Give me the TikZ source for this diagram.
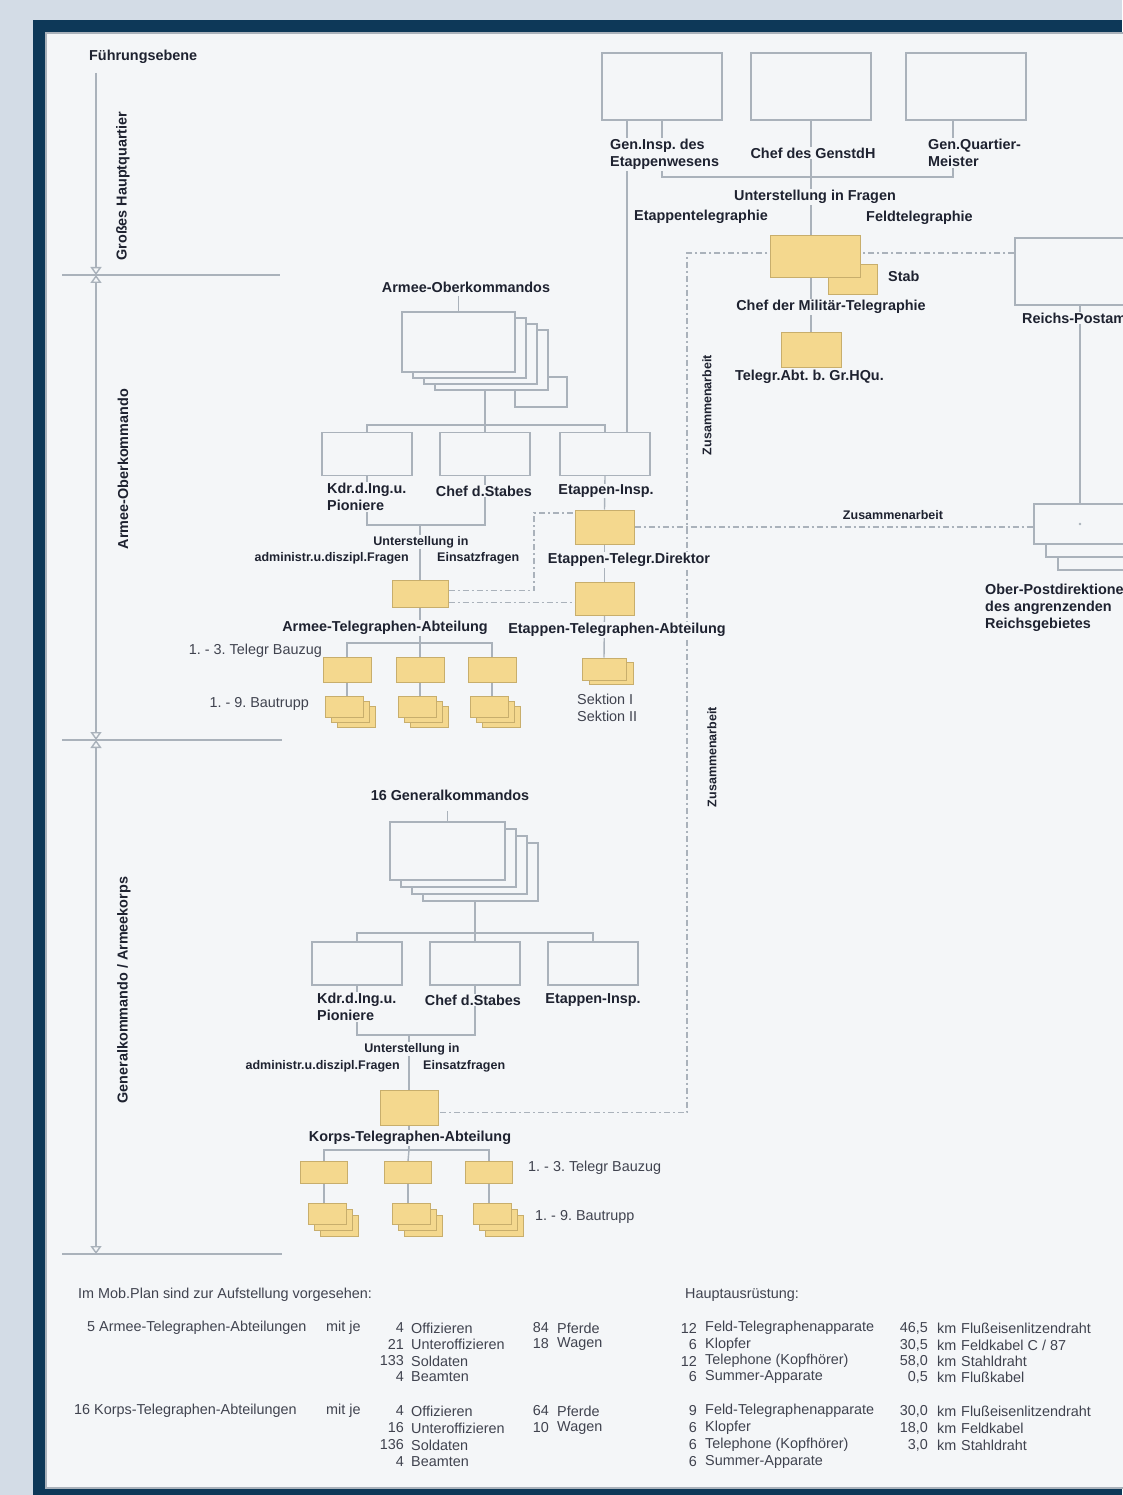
\documentclass[tikz,border=0pt]{standalone}
\usepackage{fontspec}
\setmainfont{Liberation Sans}
\usetikzlibrary{arrows.meta,positioning}
\frenchspacing

\definecolor{frame}{HTML}{0D3858}
\definecolor{wall}{HTML}{D3DCE6}
\definecolor{paper}{HTML}{F4F6F8}
\definecolor{wire}{HTML}{AAB2BB}
\definecolor{ink}{HTML}{1E2230}
\definecolor{unitfill}{HTML}{F4D88E}
\definecolor{unitline}{HTML}{C8AE6C}

\pgfdeclarelayer{bg}
\pgfdeclarelayer{back}
\pgfsetlayers{bg,back,main}

\begin{document}
\begin{tikzpicture}[
  x=1pt, y=-1pt,
  office/.style={draw=wire, fill=paper, line width=1.4pt, inner sep=0pt},
  topbox/.style={office, minimum width=120, minimum height=67},
  hqbox/.style={office, minimum width=113, minimum height=60},
  gkbox/.style={office, minimum width=115, minimum height=58},
  staffbox/.style={office, minimum width=90, minimum height=43},
  unit/.style={draw=unitline, fill=unitfill, line width=1pt, inner sep=0pt},
  trupp/.style={unit, minimum width=38, minimum height=21},
  lbl/.style={fill=paper, inner sep=1pt, text=ink, font=\fontsize{14.4}{17}\selectfont\bfseries},
  sml/.style={fill=paper, inner sep=1pt, text=ink, font=\fontsize{12.5}{14}\selectfont\bfseries},
  txt/.style={inner sep=0pt, text=ink!85, font=\fontsize{14.4}{17}\selectfont},
  link/.style={draw=wire, line width=1.4pt},
  coop/.style={draw=wire, line width=1.2pt, dash pattern=on 6pt off 3pt on 2pt off 3pt},
  lvl/.style={draw=wire, line width=1.4pt},
  >={Triangle[open, width=11pt, length=8pt]}
]
\useasboundingbox (0,0) rectangle (1122,1495);
\begin{pgfonlayer}{bg}
\fill[wall] (0,0) rectangle (1122,1495);
\fill[frame] (33,20) rectangle (1122,1495);
\filldraw[fill=paper, draw=wire, line width=1.5pt] (46,33) rectangle (1135,1488);
\end{pgfonlayer}

\node[lbl, anchor=west] (fuehrung) at (88,57) {Führungsebene};
\coordinate (ax0) at (96,73);
\coordinate (ax1) at (96,275);
\coordinate (ax2) at (96,740);
\coordinate (ax3) at (96,1254);
\draw[lvl] (62,275) -- (280,275);
\draw[lvl] (62,740) -- (282,740);
\draw[lvl] (62,1254) -- (282,1254);
\draw[lvl, ->] (ax0) -- (ax1);
\draw[lvl, <->] (ax1) -- (ax2);
\draw[lvl, <->] (ax2) -- (ax3);
\node[lbl, rotate=90] (lvHQ) at (123,186) {Großes Hauptquartier};
\node[lbl, rotate=90] (lvAOK) at (123,469) {Armee-Oberkommando};
\node[lbl, rotate=90] (lvGK) at (124,990) {Generalkommando / Armeekorps};

\node[topbox] (genInsp) at (662,86.5) {};
\node[topbox] (genStab) at (811,86.5) {};
\node[topbox] (genQM) at (966,86.5) {};
\node[unit, minimum width=49, minimum height=30] (stab) at (853,280) {};
\node[unit, minimum width=90, minimum height=42] (chefMT) at (815,257) {};
\node[unit, minimum width=60, minimum height=35] (telAbtHQ) at (811,349.5) {};
\node[office, minimum width=130, minimum height=67] (postamt) at (1080,271.5) {};
\foreach \d in {2,1}
  \node[office, minimum width=92, minimum height=40] (opd\d) at (1080+12*\d,524+13*\d) {};
\node[office, minimum width=92, minimum height=40] (opd) at (1080,524) {};
\fill[wire] (opd.center) circle (1.3);

\node[office, minimum width=52, minimum height=30] (aok5) at (541,392) {};
\foreach \d in {3,2,1}
  \node[hqbox] (aok\d) at (458.5+11*\d,342+6*\d) {};
\node[hqbox] (aok) at (458.5,342) {};
\node[staffbox] (kdrA) at (367,454) {};
\node[staffbox] (chefA) at (485,454) {};
\node[staffbox] (etapA) at (605,454) {};
\node[unit, minimum width=59, minimum height=34] (etd) at (604.5,527) {};
\node[unit, minimum width=56, minimum height=27] (ata) at (420,593.5) {};
\node[unit, minimum width=59, minimum height=33] (eta) at (604.5,598.5) {};
\foreach \x/\n in {347/1,420/2,492/3}
  \node[unit, minimum width=48, minimum height=25] (bzA\n) at (\x,669.5) {};
\foreach \x/\n in {344/1,417/2,489/3} {
  \foreach \d in {2,1}
    \node[trupp] (trA\n\d) at (\x+6*\d,707+5*\d) {};
  \node[trupp] (trA\n) at (\x,707) {};
}
\node[unit, minimum width=44, minimum height=22] (sek2) at (611,673) {};
\node[unit, minimum width=44, minimum height=22] (sek) at (604,669) {};

\foreach \d in {3,2,1}
  \node[gkbox] (gk\d) at (447.5+11*\d,851+7*\d) {};
\node[gkbox] (gk) at (447.5,851) {};
\node[staffbox] (kdrG) at (357,963.5) {};
\node[staffbox] (chefG) at (475,963.5) {};
\node[staffbox] (etapG) at (593,963.5) {};
\node[unit, minimum width=58, minimum height=35] (kta) at (409,1107.5) {};
\foreach \x/\n in {324/1,408/2,489/3}
  \node[unit, minimum width=47, minimum height=22] (bzG\n) at (\x,1172.5) {};
\foreach \x/\n in {327/1,411/2,492/3} {
  \foreach \d in {2,1}
    \node[trupp] (trG\n\d) at (\x+6*\d,1214+6*\d) {};
  \node[trupp] (trG\n) at (\x,1214) {};
}

\begin{pgfonlayer}{back}
\coordinate (hqBus) at (811,177);
\draw[link] (genInsp.south) |- (hqBus) -| ([xshift=-13pt]genQM.south);
\draw[link] (genStab.south) -- (genStab.south |- chefMT.north);
\draw[link] ([xshift=-35pt]genInsp.south) -- ([xshift=-35pt]genInsp.south |- etapA.north);
\draw[link] (telAbtHQ.north |- chefMT.south) -- (telAbtHQ.north);
\draw[link] (postamt.south) -- (opd.north);
\coordinate (coopTop) at (687,253);
\draw[coop] (coopTop -| postamt.west) -- (coopTop) |- ([yshift=-5pt]kta.east);
\draw[coop] (etd.east) -- (etd.east -| opd.west);
\coordinate (coopMid) at (534,513);
\draw[coop] ([yshift=3pt]ata.east) -| (coopMid) -- (coopMid -| etd.west);
\draw[coop] ([yshift=-9pt]ata.east) -- ([yshift=-9pt]ata.east -| eta.west);

\draw[link] (aok.north) -- ++(0,-15);
\coordinate (aokBus) at (485,425);
\draw[link] (aok3.south -| aokBus) -- (aokBus);
\draw[link] (kdrA.north) |- (aokBus) -| (etapA.north);
\draw[link] (aokBus) -- (chefA.north);
\coordinate (ubA) at (420,525);
\draw[link] (kdrA.south) |- (ubA) -| (chefA.south);
\draw[link] (ubA) -- (ata.north);
\draw[link] (etapA.south) -- (etd.north);
\draw[link] (etd.south) -- (eta.north);
\draw[link] (eta.south) -- (sek.north);
\coordinate (ataBus) at (420,643);
\draw[link] (ata.south) -- (ataBus);
\draw[link] (bzA1.north) |- (ataBus) -| (bzA3.north);
\draw[link] (ataBus) -- (bzA2.north);
\foreach \n in {1,2,3}
  \draw[link] (bzA\n.south) -- (bzA\n.south |- trA\n.north);

\draw[link] (gk.north) -- ++(0,-10);
\coordinate (gkBus) at (475,933);
\draw[link] (gk3.south -| gkBus) -- (gkBus);
\draw[link] (kdrG.north) |- (gkBus) -| (etapG.north);
\draw[link] (gkBus) -- (chefG.north);
\coordinate (ubG) at (409,1035);
\draw[link] (kdrG.south) |- (ubG) -| (chefG.south);
\draw[link] (ubG) -- (kta.north);
\coordinate (ktaBus) at (409,1150);
\draw[link] (kta.south) -- (ktaBus);
\draw[link] (bzG1.north) |- (ktaBus) -| (bzG3.north);
\draw[link] (ktaBus) -- (bzG2.north);
\foreach \n in {1,2,3}
  \draw[link] (bzG\n.south) -- (bzG\n.south |- trG\n.north);
\end{pgfonlayer}

\node[lbl, anchor=north west, align=left] (genInspT) at (609,138) {Gen.Insp. des\\Etappenwesens};
\node[lbl] (genStabT) at (813,153) {Chef des GenstdH};
\node[lbl, anchor=north west, align=left] (genQMT) at (927,138) {Gen.Quartier-\\Meister};
\node[lbl] (unterHQ) at (815,197) {Unterstellung in Fragen};
\node[lbl, anchor=east] (etapTel) at (769,217) {Etappentelegraphie};
\node[lbl, anchor=west] (feldTel) at (865,218) {Feldtelegraphie};
\node[lbl, anchor=west] (stabT) at (887,276) {Stab};
\node[lbl] (chefMTT) at (831,307) {Chef der Militär-Telegraphie};
\node[lbl, anchor=west] (telAbtHQT) at (734,377) {Telegr.Abt. b. Gr.HQu.};
\node[lbl, anchor=west] (postamtT) at (1021,318) {Reichs-Postamt};
\node[lbl, anchor=north west, align=left] (opdT) at (984,583) {Ober-Postdirektionen\\des angrenzenden\\Reichsgebietes};
\node[sml] (zusOPD) at (893,515) {Zusammenarbeit};
\node[sml, rotate=90] (zusHQ) at (707,405) {Zusammenarbeit};
\node[sml, rotate=90] (zusGK) at (712,757) {Zusammenarbeit};

\node[lbl] (aokT) at (466,287) {Armee-Oberkommandos};
\node[lbl, anchor=north west, align=left] (kdrAT) at (326,482) {Kdr.d.Ing.u.\\Pioniere};
\node[lbl] (chefAT) at (484,491) {Chef d.Stabes};
\node[lbl] (etapAT) at (606,491) {Etappen-Insp.};
\node[sml] (unterA) at (421,542) {Unterstellung in};
\node[sml, anchor=east] (adminA) at (410,558) {administr.u.diszipl.Fragen};
\node[sml, anchor=west] (einsatzA) at (436,558) {Einsatzfragen};
\node[lbl] (etdT) at (629,560) {Etappen-Telegr.Direktor};
\node[lbl] (ataT) at (385,628) {Armee-Telegraphen-Abteilung};
\node[lbl] (etaT) at (617,630) {Etappen-Telegraphen-Abteilung};
\node[txt, anchor=east] (bzAT) at (322,651) {1. - 3. Telegr Bauzug};
\node[txt, anchor=east] (trAT) at (309,704) {1. - 9. Bautrupp};
\node[txt, anchor=north west, align=left] (sekT) at (577,694) {Sektion I\\Sektion II};

\node[lbl] (gkT) at (450,795) {16 Generalkommandos};
\node[lbl, anchor=north west, align=left] (kdrGT) at (316,992) {Kdr.d.Ing.u.\\Pioniere};
\node[lbl] (chefGT) at (473,1000) {Chef d.Stabes};
\node[lbl] (etapGT) at (593,1000) {Etappen-Insp.};
\node[sml] (unterG) at (412,1049) {Unterstellung in};
\node[sml, anchor=east] (adminG) at (401,1066) {administr.u.diszipl.Fragen};
\node[sml, anchor=west] (einsatzG) at (422,1066) {Einsatzfragen};
\node[lbl] (ktaT) at (410,1138) {Korps-Telegraphen-Abteilung};
\node[txt, anchor=west] (bzGT) at (528,1168) {1. - 3. Telegr Bauzug};
\node[txt, anchor=west] (trGT) at (535,1217) {1. - 9. Bautrupp};

\node[txt, anchor=west] (mobT) at (78,1295) {Im Mob.Plan sind zur Aufstellung vorgesehen:};
\node[txt, anchor=west] (armeeN) at (87,1328) {5 Armee-Telegraphen-Abteilungen};
\node[txt, anchor=west] (armeeJe) at (326,1328) {mit je};
\foreach \y/\n/\w [count=\i] in {1328/4/Offizieren,1344/21/Unteroffizieren,1361/133/Soldaten,1377/4/Beamten} {
  \node[txt, anchor=east] (persAn\i) at (404,\y) {\n};
  \node[txt, anchor=west] (persAw\i) at (411,\y) {\w};
}
\foreach \y/\n/\w [count=\i] in {1328/84/Pferde,1344/18/Wagen} {
  \node[txt, anchor=east] (trainAn\i) at (549,\y) {\n};
  \node[txt, anchor=west] (trainAw\i) at (557,\y) {\w};
}
\node[txt, anchor=west] (korpsN) at (74,1411) {16 Korps-Telegraphen-Abteilungen};
\node[txt, anchor=west] (korpsJe) at (326,1411) {mit je};
\foreach \y/\n/\w [count=\i] in {1411/4/Offizieren,1428/16/Unteroffizieren,1445/136/Soldaten,1462/4/Beamten} {
  \node[txt, anchor=east] (persKn\i) at (404,\y) {\n};
  \node[txt, anchor=west] (persKw\i) at (411,\y) {\w};
}
\foreach \y/\n/\w [count=\i] in {1411/64/Pferde,1428/10/Wagen} {
  \node[txt, anchor=east] (trainKn\i) at (549,\y) {\n};
  \node[txt, anchor=west] (trainKw\i) at (557,\y) {\w};
}

\node[txt, anchor=west] (ausrT) at (685,1295) {Hauptausrüstung:};
\foreach \y/\n/\w [count=\i] in {1328/12/Feld-Telegraphenapparate,1345/6/Klopfer,1361/12/Telephone (Kopfhörer),1377/6/Summer-Apparate,
                                   1411/9/Feld-Telegraphenapparate,1428/6/Klopfer,1445/6/Telephone (Kopfhörer),1462/6/Summer-Apparate} {
  \node[txt, anchor=east] (geraetN\i) at (697,\y) {\n};
  \node[txt, anchor=west] (geraetW\i) at (705,\y) {\w};
}
\foreach \y/\n [count=\i] in {1328/{46,5},1345/{30,5},1361/{58,0},1377/{0,5},1411/{30,0},1428/{18,0},1445/{3,0}} {
  \node[txt, anchor=east] (kabelN\i) at (928,\y) {\n};
  \node[txt, anchor=west] (kabelKm\i) at (937,\y) {km};
}
\node[txt, anchor=west] (kabelW1) at (961,1328) {Flußeisenlitzendraht};
\node[txt, anchor=west] (kabelW2) at (961,1345) {Feldkabel C / 87};
\node[txt, anchor=west] (kabelW3) at (961,1361) {Stahldraht};
\node[txt, anchor=west] (kabelW4) at (961,1377) {Flußkabel};
\node[txt, anchor=west] (kabelW5) at (961,1411) {Flußeisenlitzendraht};
\node[txt, anchor=west] (kabelW6) at (961,1428) {Feldkabel};
\node[txt, anchor=west] (kabelW7) at (961,1445) {Stahldraht};
\end{tikzpicture}
\end{document}
